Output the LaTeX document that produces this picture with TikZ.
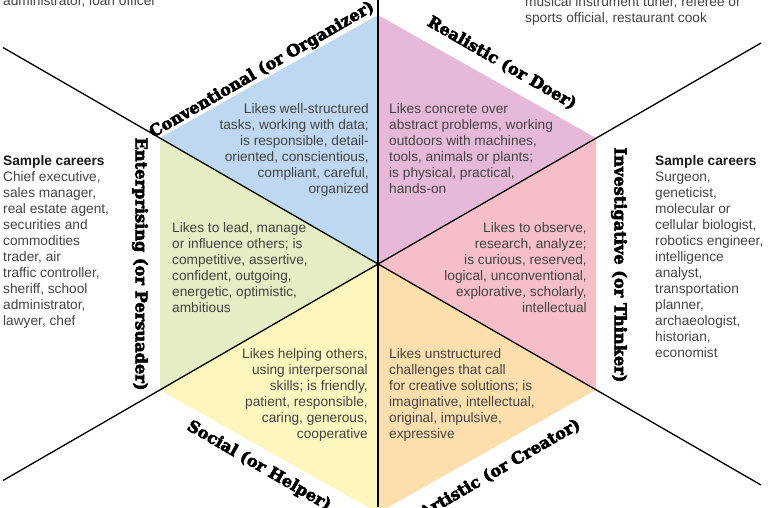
\documentclass[tikz,border=0pt]{standalone}
\usepackage{fontspec}
\newfontfamily\bodyfont{Liberation Sans}
\newfontfamily\labelfont{DejaVu Serif}[BoldFeatures={FakeBold=3.5}]
\definecolor{convblue}{HTML}{BDD8F0}
\definecolor{realpink}{HTML}{E6B9D9}
\definecolor{invpink}{HTML}{F5BEC8}
\definecolor{artorange}{HTML}{FDDFAE}
\definecolor{socyellow}{HTML}{FDF6BE}
\definecolor{entgreen}{HTML}{E4EDC3}
\definecolor{bodygray}{HTML}{444444}
\definecolor{headdark}{HTML}{1A1A1A}
\tikzset{
  body/.style={inner sep=0pt, font=\bodyfont\fontsize{13.7}{16}\selectfont, text=bodygray},
  catlabel/.style={inner sep=0pt, font=\labelfont\bfseries\fontsize{16.2}{18}\selectfont, text=black},
  divider/.style={line width=1.3pt, black},
}
\newcommand{\samplehead}{{\bfseries\color{headdark}Sample careers}}
\begin{document}
\begin{tikzpicture}[x=1pt,y=-1pt]
\useasboundingbox (0,0) rectangle (768,507);
\clip (0,0) rectangle (768,507);
\fill[white] (0,0) rectangle (768,507);

% hexagon corners and centre
\coordinate (C)  at (378,264);
\coordinate (T)  at (378,15);
\coordinate (UR) at (596,138);
\coordinate (LR) at (596,390);
\coordinate (B)  at (378,513);
\coordinate (LL) at (160,390);
\coordinate (UL) at (160,138);

% six coloured sectors
\fill[convblue]  (C) -- (T)  -- (UL) -- cycle;
\fill[realpink]  (C) -- (T)  -- (UR) -- cycle;
\fill[invpink]   (C) -- (UR) -- (LR) -- cycle;
\fill[artorange] (C) -- (LR) -- (B)  -- cycle;
\fill[socyellow] (C) -- (B)  -- (LL) -- cycle;
\fill[entgreen]  (C) -- (LL) -- (UL) -- cycle;

% dividing lines through the centre
\coordinate (vtop) at (378,0);
\coordinate (vbot) at (378,507);
\coordinate (dA1) at (3,47.5);
\coordinate (dA2) at (761,485);
\coordinate (dB1) at (3,480.5);
\coordinate (dB2) at (761,43);
\draw[divider] (vtop) -- (vbot);
\draw[divider] (dA1) -- (dA2);
\draw[divider] (dB1) -- (dB2);

% category names along the hexagon sides
\node[catlabel, rotate=30]  (lconv) at (262,70)  {Conventional (or Organizer)};
\node[catlabel, rotate=-30] (lreal) at (502,63)  {Realistic (or Doer)};
\node[catlabel, rotate=-90] (linv)  at (619,265) {Investigative (or Thinker)};
\node[catlabel, rotate=-90] (lent)  at (140,264) {Enterprising (or Persuader)};
\node[catlabel, rotate=-30] (lsoc)  at (259,466) {Social (or Helper)};
\node[catlabel, rotate=30]  (lart)  at (500,469) {Artistic (or Creator)};

% trait descriptions inside the sectors
\node[body, align=right, anchor=north east] (tconv) at (369,102.3)
  {\strut Likes well-structured\\tasks, working with data;\\is responsible, detail-\\oriented, conscientious,\\compliant, careful,\\organized};
\node[body, align=left, anchor=north west] (treal) at (389,102.3)
  {\strut Likes concrete over\\abstract problems, working\\outdoors with machines,\\tools, animals or plants;\\is physical, practical,\\hands-on};
\node[body, align=left, anchor=north west] (tent) at (172,221.3)
  {\strut Likes to lead, manage\\or influence others; is\\competitive, assertive,\\confident, outgoing,\\energetic, optimistic,\\ambitious};
\node[body, align=right, anchor=north east] (tinv) at (587,221.3)
  {\strut Likes to observe,\\research, analyze;\\is curious, reserved,\\logical, unconventional,\\explorative, scholarly,\\intellectual};
\node[body, align=right, anchor=north east] (tsoc) at (368,347.3)
  {\strut Likes helping others,\\using interpersonal\\skills; is friendly,\\patient, responsible,\\caring, generous,\\cooperative};
\node[body, align=left, anchor=north west] (tart) at (389,347.3)
  {\strut Likes unstructured\\challenges that call\\for creative solutions; is\\imaginative, intellectual,\\original, impulsive,\\expressive};

% sample careers
\node[body, align=left, anchor=north west] (cent) at (3,154.3)
  {\strut\samplehead\\Chief executive,\\sales manager,\\real estate agent,\\securities and\\commodities\\trader, air\\traffic controller,\\sheriff, school\\administrator,\\lawyer, chef};
\node[body, align=left, anchor=north west] (cinv) at (655,154.3)
  {\strut\samplehead\\Surgeon,\\geneticist,\\molecular or\\cellular biologist,\\robotics engineer,\\intelligence\\analyst,\\transportation\\planner,\\archaeologist,\\historian,\\economist};
\node[body, align=left, anchor=north west] (cconv) at (3,-6.2)
  {\strut administrator, loan officer};
\node[body, align=left, anchor=north west] (creal) at (525,-5.2)
  {\strut musical instrument tuner, referee or\\sports official, restaurant cook};
\end{tikzpicture}
\end{document}
